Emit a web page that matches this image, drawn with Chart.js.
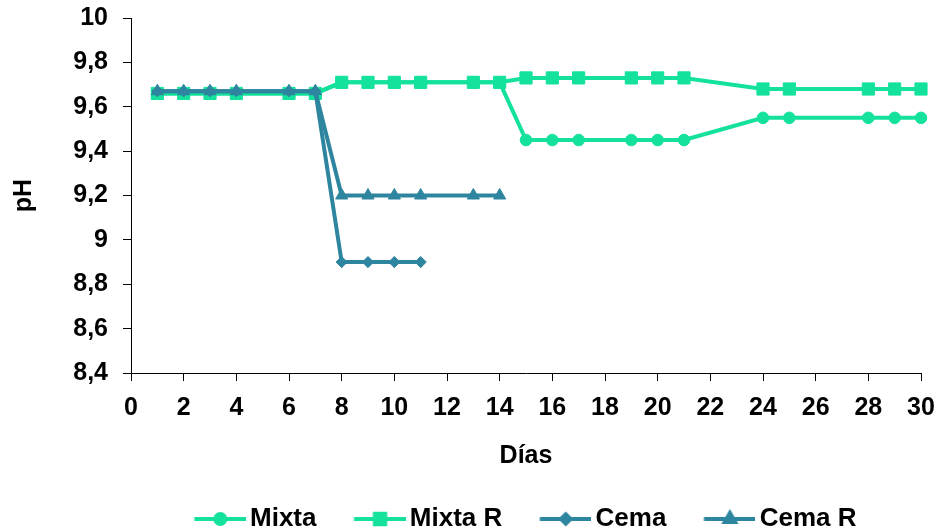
<!DOCTYPE html>
<html>
<head>
<meta charset="utf-8">
<script src="https://cdn.jsdelivr.net/npm/chart.js@4.4.1/dist/chart.umd.min.js"></script>
<style>
  html, body { margin: 0; padding: 0; background: #fff; }
  #wrap { width: 940px; height: 531px; overflow: hidden; position: relative; }
  canvas { display: block; }
</style>
</head>
<body>
<div id="wrap"><canvas id="c" width="940" height="542"></canvas></div>
<script>
// Días de muestreo y pH medido para cada mezcla
const mixtaDays  = [1, 2, 3, 4, 6, 7, 8, 9, 10, 11, 13, 14, 15, 16, 17, 19, 20, 21, 24, 25, 28, 29, 30];
const mixtaPH    = [9.66, 9.66, 9.66, 9.66, 9.66, 9.66, 9.71, 9.71, 9.71, 9.71, 9.71, 9.71,
                    9.45, 9.45, 9.45, 9.45, 9.45, 9.45, 9.55, 9.55, 9.55, 9.55, 9.55];
const mixtaRDays = [1, 2, 3, 4, 6, 7, 8, 9, 10, 11, 13, 14, 15, 16, 17, 19, 20, 21, 24, 25, 28, 29, 30];
const mixtaRPH   = [9.66, 9.66, 9.66, 9.66, 9.66, 9.66, 9.71, 9.71, 9.71, 9.71, 9.71, 9.71,
                    9.73, 9.73, 9.73, 9.73, 9.73, 9.73, 9.68, 9.68, 9.68, 9.68, 9.68];
const cemaDays   = [1, 2, 3, 4, 6, 7, 8, 9, 10, 11];
const cemaPH     = [9.67, 9.67, 9.67, 9.67, 9.67, 9.67, 8.90, 8.90, 8.90, 8.90];
const cemaRDays  = [1, 2, 3, 4, 6, 7, 8, 9, 10, 11, 13, 14];
const cemaRPH    = [9.67, 9.67, 9.67, 9.67, 9.67, 9.67, 9.20, 9.20, 9.20, 9.20, 9.20, 9.20];

const seriesNames = ['Mixta', 'Mixta R', 'Cema', 'Cema R'];

const GREEN = '#14E29C';
const TEAL = '#2E859F';
const FONT = "'Liberation Sans', Arial, sans-serif";

function points(days, vals) {
  return days.map((d, i) => ({ x: d, y: vals[i] }));
}

function series(label, days, vals, color, style, radius, order) {
  return {
    label,
    data: points(days, vals),
    borderColor: color,
    backgroundColor: color,
    borderWidth: 4,
    pointStyle: style,
    pointRadius: radius,
    pointHoverRadius: radius,
    pointBorderWidth: 1,
    pointBorderColor: color,
    pointBackgroundColor: color,
    tension: 0,
    clip: false,
    order
  };
}

const datasets = [
  series(seriesNames[0], mixtaDays, mixtaPH, GREEN, 'circle', 5.8, 2),
  series(seriesNames[1], mixtaRDays, mixtaRPH, GREEN, 'rect', 8.6, 3),
  series(seriesNames[2], cemaDays, cemaPH, TEAL, 'rectRot', 5.6, 0),
  series(seriesNames[3], cemaRDays, cemaRPH, TEAL, 'triangle', 7, 1)
];

// Legend symbol: a short line with the series marker in its middle
const LEG_W = 41.5;     // space reserved for the symbol box
const LEG_IMG_W = 59.5; // drawn symbol width (overflows the box toward the text)
const LEG_LINE = 52;
function legendSymbol(ds) {
  const c = document.createElement('canvas');
  c.width = LEG_IMG_W;
  c.height = 20;
  const ctx = c.getContext('2d');
  const x0 = LEG_IMG_W - LEG_LINE, x1 = LEG_IMG_W, yc = 10;
  ctx.strokeStyle = ds.borderColor;
  ctx.lineWidth = 4;
  ctx.beginPath();
  ctx.moveTo(x0, yc);
  ctx.lineTo(x1, yc);
  ctx.stroke();
  ctx.fillStyle = ds.pointBackgroundColor;
  ctx.strokeStyle = ds.pointBorderColor;
  Chart.helpers.drawPoint(ctx, {
    pointStyle: ds.pointStyle,
    radius: ds.pointRadius * 0.85,
    rotation: 0,
    borderWidth: 1
  }, (x0 + x1) / 2, yc);
  return c;
}

function tickComma(v) {
  const r = Math.round(v * 10) / 10;
  return String(r).replace('.', ',');
}

new Chart(document.getElementById('c'), {
  type: 'line',
  data: { datasets },
  options: {
    responsive: false,
    animation: false,
    devicePixelRatio: 1,
    layout: { padding: { left: 0, right: 19, top: 18, bottom: 0 } },
    plugins: {
      tooltip: { enabled: false },
      legend: {
        position: 'bottom',
        fullSize: false,
        labels: {
          usePointStyle: true,
          pointStyleWidth: LEG_W,
          padding: 38.8,
          color: '#000',
          font: { family: FONT, size: 26, weight: 'bold' },
          generateLabels(chart) {
            return chart.data.datasets.map((ds, i) => ({
              text: ds.label,
              pointStyle: legendSymbol(ds),
              fillStyle: ds.backgroundColor,
              strokeStyle: ds.borderColor,
              lineWidth: 0,
              hidden: false,
              datasetIndex: i,
              fontColor: '#000'
            }));
          }
        }
      }
    },
    scales: {
      x: {
        type: 'linear',
        min: 0,
        max: 30,
        afterFit(scale) {
          scale.height = 94.2;
          scale.paddingLeft = 0;
          scale.paddingRight = 0;
        },
        ticks: {
          stepSize: 2,
          padding: 12,
          color: '#000',
          maxRotation: 0,
          autoSkip: false,
          font: { family: FONT, size: 25, weight: 'bold' }
        },
        grid: {
          display: true,
          drawOnChartArea: false,
          drawTicks: true,
          tickLength: 8,
          color: '#000',
          lineWidth: 1
        },
        border: { display: true, color: '#000', width: 1 },
        title: {
          display: true,
          text: 'Días',
          color: '#000',
          font: { family: FONT, size: 25, weight: 'bold', lineHeight: 0.8 },
          padding: { top: 0, bottom: 1.2 }
        }
      },
      y: {
        type: 'linear',
        min: 8.4,
        max: 10,
        afterFit(scale) {
          scale.width = 131;
          scale.paddingTop = 0;
          scale.paddingBottom = 0;
        },
        ticks: {
          stepSize: 0.2,
          padding: 15,
          color: '#000',
          font: { family: FONT, size: 25, weight: 'bold' },
          callback: (v) => tickComma(v)
        },
        grid: {
          display: true,
          drawOnChartArea: false,
          drawTicks: true,
          tickLength: 8,
          color: '#000',
          lineWidth: 1
        },
        border: { display: true, color: '#000', width: 1 },
        title: {
          display: true,
          text: 'pH',
          color: '#000',
          font: { family: FONT, size: 25, weight: 'bold' },
          padding: { top: 9.5, bottom: 0 }
        }
      }
    }
  }
});
</script>
</body>
</html>
